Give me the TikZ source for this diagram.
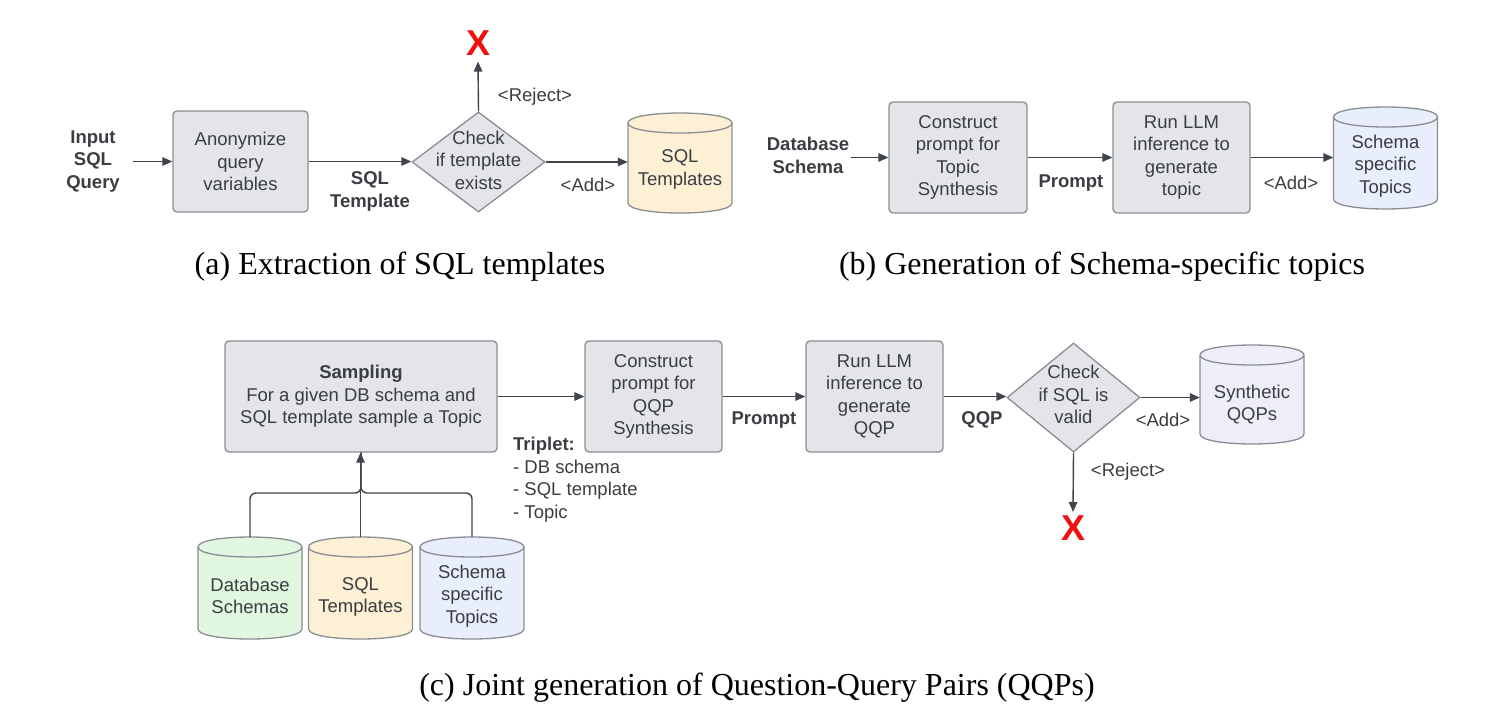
\documentclass[tikz,border=0pt]{standalone}
\usepackage{fontspec}
\setmainfont{Liberation Serif}
\newfontfamily\dgf{Liberation Sans}
\usetikzlibrary{shapes.geometric,arrows.meta}
\definecolor{boxfill}{HTML}{E3E5E9}
\definecolor{boxdraw}{HTML}{8A8E94}
\definecolor{linecol}{HTML}{40454C}
\definecolor{txtcol}{HTML}{3A3D42}
\definecolor{cylyellow}{HTML}{FDF0D5}
\definecolor{cylblue}{HTML}{E8EEFC}
\definecolor{cylgreen}{HTML}{E2F7E0}
\definecolor{cyllav}{HTML}{EEEEFB}
\definecolor{xred}{HTML}{F01010}
\tikzset{
  dg/.style={font=\dgf\fontsize{18.5}{22.5}\selectfont, text=txtcol, align=center, inner sep=0pt},
  dgb/.style={font=\dgf\bfseries\fontsize{18.5}{22.5}\selectfont, text=txtcol, align=center, inner sep=0pt},
  procbox/.style={dg, rectangle, rounded corners=4pt, draw=boxdraw, line width=1.3pt, fill=boxfill},
  decbox/.style={diamond, draw=boxdraw, line width=1.3pt, fill=boxfill, inner sep=0pt},
  cylline/.style={draw=boxdraw, line width=1.3pt},
  ghost/.style={rectangle, draw=none, inner sep=0pt},
  conn/.style={draw=linecol, line width=1.4pt},
  arr/.style={conn, -{Triangle[length=10pt,width=8.5pt]}},
  redx/.style={font=\dgf\bfseries\fontsize{36}{36}\selectfont, text=xred, inner sep=0pt},
  capt/.style={font=\fontsize{32}{36}\selectfont, inner sep=0pt},
}
% #1 name, #2 cx, #3 top, #4 bottom, #5 fill
\newcommand\dbcyl[5]{%
  \path[cylline, fill=#5] (#2-52,#3+10) -- (#2-52,#4-10)
     .. controls (#2-52,#4+3.33) and (#2+52,#4+3.33) .. (#2+52,#4-10)
     -- (#2+52,#3+10)
     .. controls (#2+52,#3-3.33) and (#2-52,#3-3.33) .. cycle;
  \draw[cylline] (#2-52,#3+10) .. controls (#2-52,#3+23.33) and (#2+52,#3+23.33) .. (#2+52,#3+10);
  \node[ghost, minimum width=104pt, minimum height=#4-#3] (#1) at (#2,{(#3+#4)/2}) {};
}
\begin{document}
\begin{tikzpicture}[x=1pt,y=-1pt]
\useasboundingbox[fill=white] (0,0) rectangle (1512,726);

% ---------------- (a) ----------------
\node[dgb] (inp) at (93,161.5) {Input\\SQL\\Query};
\node[procbox, minimum width=135pt, minimum height=101pt] (anon) at (240.5,161.5) {Anonymize\\query\\variables};
\node[decbox, minimum width=133pt, minimum height=100pt] (chk) at (478.5,162) {};
\node[dg] (chkt) at (478.5,160) {Check\\if template\\exists};
\dbcyl{sqlt}{680}{113}{213}{cylyellow}
\node[dg] (sqltt) at (680,169.5) {SQL\\Templates};
\node[redx] (xa) at (478,43) {X};
\node[dgb] (lsqlt) at (370,191.5) {SQL\\Template};
\node[dg] (lrej) at (535,97) {<Reject>};
\node[dg] (ladd) at (588,185) {<Add>};

\draw[arr] ([xshift=13pt]inp.east |- anon.west) -- (anon.west);
\draw[arr] (anon.east) -- (anon.east -| chk.west);
\draw[arr] (chk.east) -- (chk.east -| sqlt.west);
\draw[arr] (chk.north) -- ([yshift=-6pt]xa.south);

\node[capt] (capa) at (400,267) {(a) Extraction of SQL templates};

% ---------------- (b) ----------------
\node[dgb] (dbl) at (808,155.5) {Database\\Schema};
\node[procbox, minimum width=138pt, minimum height=111pt] (conb) at (958,157.5) {Construct\\prompt for\\Topic\\Synthesis};
\node[procbox, minimum width=137pt, minimum height=111pt] (runb) at (1181.5,157.5) {Run LLM\\inference to\\generate\\topic};
\dbcyl{topc}{1385.5}{107}{209}{cylblue}
\node[dg] (topct) at (1385.5,166) {Schema\\specific\\Topics};
\node[dgb] (lpb) at (1071,183) {Prompt};
\node[dg] (laddb) at (1291,183) {<Add>};

\draw[arr] ([xshift=2pt]dbl.east |- conb.west) -- (conb.west);
\draw[arr] (conb.east) -- (runb.west);
\draw[arr] (runb.east) -- (runb.east -| topc.west);

\node[capt] (capb) at (1102,267) {(b) Generation of Schema-specific topics};

% ---------------- (c) ----------------
\node[procbox, minimum width=272pt, minimum height=111pt] (samp) at (361,396.5) {\textbf{Sampling}\\For a given DB schema and\\SQL template sample a Topic};
\node[procbox, minimum width=137pt, minimum height=111pt] (conc) at (653.5,396.5) {Construct\\prompt for\\QQP\\Synthesis};
\node[procbox, minimum width=137pt, minimum height=111pt] (runc) at (874.5,396.5) {Run LLM\\inference to\\generate\\QQP};
\node[decbox, minimum width=133pt, minimum height=109pt] (chkc) at (1073.5,397.5) {};
\node[dg] (chkct) at (1073.5,394.5) {Check\\if SQL is\\valid};
\dbcyl{syn}{1252}{345}{444}{cyllav}
\node[dg] (synt) at (1252,404.5) {Synthetic\\QQPs};
\node[redx] (xc) at (1073,528) {X};

\node[dg, align=left, anchor=west] (trip) at (513,479.5) {\textbf{Triplet:}\\- DB schema\\- SQL template\\- Topic};
\node[dgb] (lpc) at (764,420) {Prompt};
\node[dgb] (lqqp) at (982,420) {QQP};
\node[dg] (laddc) at (1163,420) {<Add>};
\node[dg] (lrejc) at (1128,472) {<Reject>};

\dbcyl{dbs}{250}{537}{639}{cylgreen}
\node[dg] (dbst) at (250,596) {Database\\Schemas};
\dbcyl{sqlc}{360.5}{537}{639}{cylyellow}
\node[dg] (sqlct) at (360.5,597) {SQL\\Templates};
\dbcyl{stc}{472}{537}{639}{cylblue}
\node[dg] (stct) at (472,596) {Schema\\specific\\Topics};

\draw[arr] (samp.east |- conc.west) -- (conc.west);
\draw[arr] (conc.east) -- (runc.west);
\draw[arr] (runc.east) -- (runc.east -| chkc.west);
\draw[arr] (chkc.east) -- (chkc.east -| syn.west);
\draw[arr] (chkc.south) -- ([yshift=-6pt]xc.north |- chkc.south |- 0,506);

\coordinate (join) at (361,493);
\draw[conn, rounded corners=6pt] (dbs.north) |- (join) -- (samp.south);
\draw[conn, rounded corners=6pt] (stc.north) |- (join) -- (samp.south);
\draw[arr] (sqlc.north) -- (sqlc.north |- samp.south);

\node[capt] (capc) at (757,688) {(c) Joint generation of Question-Query Pairs (QQPs)};
\end{tikzpicture}
\end{document}
